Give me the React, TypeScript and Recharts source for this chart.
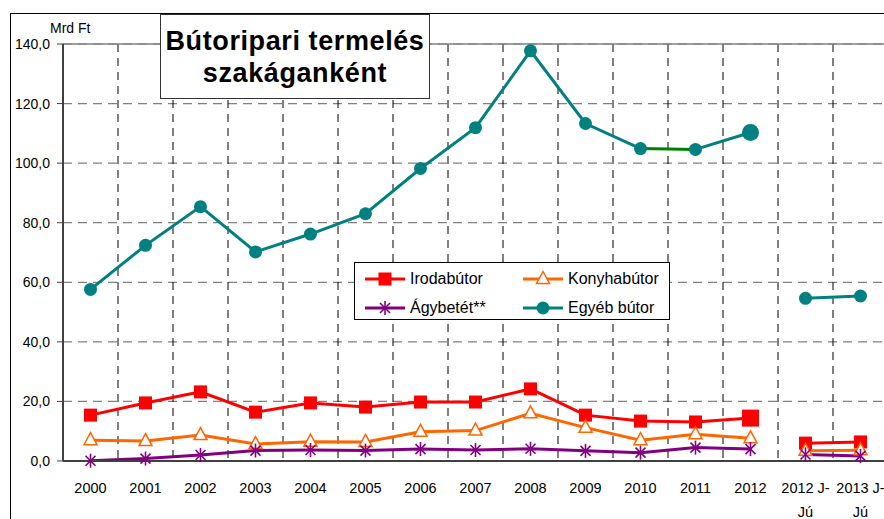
import React from 'react';
import { LineChart, Line, XAxis, YAxis, CartesianGrid, Legend, ReferenceLine } from 'recharts';

// Years plus the two half-year (Jan-Jun) periods at the end
const categories = [
    '2000', '2001', '2002', '2003', '2004', '2005', '2006', '2007',
    '2008', '2009', '2010', '2011', '2012', '2012 J-\nJú', '2013 J-\nJú',
];

const irodabutor = [15.4, 19.5, 23.2, 16.4, 19.5, 18.1, 19.8, 19.8, 24.2, 15.4, 13.4, 13.1, 14.4, 6.0, 6.4];
const konyhabutor = [7.0, 6.7, 8.7, 5.7, 6.5, 6.4, 9.8, 10.2, 16.0, 11.2, 7.0, 9.0, 7.6, 3.4, 3.6];
const agybetet = [0.1, 0.8, 2.0, 3.5, 3.7, 3.5, 4.0, 3.7, 4.1, 3.4, 2.8, 4.5, 4.0, 2.2, 1.7];
const egyebButor = [57.6, 72.4, 85.4, 70.2, 76.2, 83.0, 98.2, 111.9, 137.7, 113.3, 104.9, 104.6, 110.3, 54.6, 55.4];

const yTicks = [0, 20, 40, 60, 80, 100, 120, 140];

// the 2010-2011 stretch of "Egyéb bútor" is drawn green in the original
const greenFrom = categories.indexOf('2010');
const greenTo = categories.indexOf('2011');
// markers drawn bigger on the last full year
const bigMarker = categories.indexOf('2012');

const RED = '#FF0000';
const ORANGE = '#FF6600';
const PURPLE = '#800080';
const TEAL = '#008080';
const GREEN = '#008000';
const FONT = '"Liberation Sans", Arial, sans-serif';

const isHalf = (c: string) => c.includes('J-');

const chartData = categories.map((cat, i) => {
    const half = isHalf(cat);
    return {
        cat,
        iroda: half ? null : irodabutor[i],
        irodaH: half ? irodabutor[i] : null,
        konyha: half ? null : konyhabutor[i],
        konyhaH: half ? konyhabutor[i] : null,
        agy: half ? null : agybetet[i],
        agyH: half ? agybetet[i] : null,
        egyebA: !half && i <= greenFrom ? egyebButor[i] : null,
        egyebG: i >= greenFrom && i <= greenTo ? egyebButor[i] : null,
        egyebB: !half && i >= greenTo ? egyebButor[i] : null,
        egyebH: half ? egyebButor[i] : null,
    };
});

const fmt = (v: number) => v.toFixed(1).replace('.', ',');

// vertical gridlines sit on the borders between categories
const categoryBorders = ({ offset }: any) =>
    Array.from({ length: categories.length - 1 }, (_, i) => offset.left + ((i + 1) * offset.width) / categories.length);

function Square({ cx, cy, size }: any) {
    return <rect x={cx - size / 2} y={cy - size / 2} width={size} height={size} fill={RED} />;
}
function Triangle({ cx, cy }: any) {
    return (
        <polygon
            points={`${cx},${cy - 7.5} ${cx - 6.5},${cy + 4.5} ${cx + 6.5},${cy + 4.5}`}
            fill="#fff"
            stroke={ORANGE}
            strokeWidth={1.5}
        />
    );
}
function Star({ cx, cy }: any) {
    const r = 7;
    const d = 5;
    return (
        <g stroke={PURPLE} strokeWidth={1.6}>
            <line x1={cx} y1={cy - r} x2={cx} y2={cy + r} />
            <line x1={cx - d} y1={cy - d} x2={cx + d} y2={cy + d} />
            <line x1={cx - d} y1={cy + d} x2={cx + d} y2={cy - d} />
        </g>
    );
}
function Circle({ cx, cy, r }: any) {
    return <circle cx={cx} cy={cy} r={r} fill={TEAL} />;
}

const skip = (p: any) => p.cy == null || p.value == null || Number.isNaN(p.cy);

const squareDot = (p: any) =>
    skip(p) ? <g key={p.key ?? p.index} /> : <Square key={p.key ?? p.index} cx={p.cx} cy={p.cy} size={p.index === bigMarker ? 17 : 13} />;
const triangleDot = (p: any) =>
    skip(p) ? <g key={p.key ?? p.index} /> : <Triangle key={p.key ?? p.index} cx={p.cx} cy={p.cy} />;
const starDot = (p: any) =>
    skip(p) ? <g key={p.key ?? p.index} /> : <Star key={p.key ?? p.index} cx={p.cx} cy={p.cy} />;
const circleDot = (p: any) =>
    skip(p) ? <g key={p.key ?? p.index} /> : <Circle key={p.key ?? p.index} cx={p.cx} cy={p.cy} r={p.index === bigMarker ? 8.5 : 6.5} />;

function CatTick({ x, y, payload }: any) {
    const lines = String(payload.value).split('\n');
    return (
        <text x={x} y={y} textAnchor="middle" fontSize={14.5} fill="#000" fontFamily={FONT}>
            {lines.map((l, i) => (
                <tspan key={i} x={x} dy={i === 0 ? '0.71em' : 24}>{l}</tspan>
            ))}
        </text>
    );
}

const legendItems = [
    { name: 'Irodabútor', color: RED, marker: (cx: number, cy: number) => <Square cx={cx} cy={cy} size={13} /> },
    { name: 'Konyhabútor', color: ORANGE, marker: (cx: number, cy: number) => <Triangle cx={cx} cy={cy} /> },
    { name: 'Ágybetét**', color: PURPLE, marker: (cx: number, cy: number) => <Star cx={cx} cy={cy} /> },
    { name: 'Egyéb bútor', color: TEAL, marker: (cx: number, cy: number) => <Circle cx={cx} cy={cy} r={6.5} /> },
];

function LegendBox() {
    return (
        <div
            style={{
                boxSizing: 'border-box',
                width: 316,
                height: 58,
                border: '1px solid #000',
                background: '#fff',
                display: 'grid',
                gridTemplateColumns: '158px 158px',
                gridTemplateRows: '29px 29px',
                paddingTop: 1,
                fontFamily: FONT,
                fontSize: 16,
                color: '#000',
            }}
        >
            {legendItems.map(it => (
                <div key={it.name} style={{ display: 'flex', alignItems: 'center', paddingLeft: 9 }}>
                    <svg width={44} height={20} style={{ flex: 'none' }}>
                        <line x1={1} y1={10} x2={41} y2={10} stroke={it.color} strokeWidth={3} />
                        {it.marker(21, 10)}
                    </svg>
                    <span style={{ marginLeft: 2 }}>{it.name}</span>
                </div>
            ))}
        </div>
    );
}

export default function App() {
    return (
        <div
            style={{
                position: 'absolute',
                left: 0,
                top: 0,
                width: 884,
                height: 519,
                overflow: 'hidden',
                background: '#fff',
                fontFamily: FONT,
            }}
        >
            <div
                style={{
                    position: 'absolute',
                    left: 10,
                    top: 13,
                    width: 900,
                    height: 600,
                    border: '1px solid #000',
                }}
            />
            <LineChart width={900} height={519} data={chartData} margin={{ top: 44, right: 12, bottom: 0, left: 0 }}>
                <CartesianGrid vertical={false} stroke="#808080" strokeDasharray="9 6" strokeWidth={1.2} />
                <CartesianGrid
                    horizontal={false}
                    verticalCoordinatesGenerator={categoryBorders}
                    stroke="#000"
                    strokeDasharray="8 6"
                />
                <ReferenceLine y={140} stroke="#808080" strokeWidth={1.5} />
                <XAxis
                    dataKey="cat"
                    interval={0}
                    padding={{ left: 27.5, right: 27.5 }}
                    axisLine={{ stroke: '#404040', strokeWidth: 2 }}
                    tickLine={false}
                    tickSize={6}
                    tickMargin={16}
                    height={58}
                    tick={<CatTick />}
                />
                <YAxis
                    domain={[0, 140]}
                    ticks={yTicks}
                    tickFormatter={fmt}
                    width={63}
                    tickSize={6}
                    tickMargin={7}
                    axisLine={{ stroke: '#404040', strokeWidth: 2 }}
                    tickLine={{ stroke: '#404040' }}
                    tick={{ fill: '#000', fontSize: 14, fontFamily: FONT }}
                />
                <Legend
                    layout="vertical"
                    align="center"
                    verticalAlign="middle"
                    wrapperStyle={{ left: 354, top: 262, width: 316, height: 58 }}
                    content={() => <LegendBox />}
                />

                <Line dataKey="egyebG" stroke={GREEN} strokeWidth={3} dot={false} activeDot={false} isAnimationActive={false} legendType="none" />
                <Line dataKey="egyebA" stroke={TEAL} strokeWidth={3} dot={circleDot} activeDot={false} isAnimationActive={false} />
                <Line dataKey="egyebB" stroke={TEAL} strokeWidth={3} dot={circleDot} activeDot={false} isAnimationActive={false} legendType="none" />
                <Line dataKey="egyebH" stroke={TEAL} strokeWidth={3} dot={circleDot} activeDot={false} isAnimationActive={false} legendType="none" />

                <Line dataKey="iroda" stroke={RED} strokeWidth={3} dot={squareDot} activeDot={false} isAnimationActive={false} />
                <Line dataKey="irodaH" stroke={RED} strokeWidth={3} dot={squareDot} activeDot={false} isAnimationActive={false} legendType="none" />

                <Line dataKey="konyha" stroke={ORANGE} strokeWidth={3} dot={triangleDot} activeDot={false} isAnimationActive={false} />
                <Line dataKey="konyhaH" stroke={ORANGE} strokeWidth={3} dot={triangleDot} activeDot={false} isAnimationActive={false} legendType="none" />

                <Line dataKey="agy" stroke={PURPLE} strokeWidth={3} dot={starDot} activeDot={false} isAnimationActive={false} />
                <Line dataKey="agyH" stroke={PURPLE} strokeWidth={3} dot={starDot} activeDot={false} isAnimationActive={false} legendType="none" />
            </LineChart>

            <div
                style={{
                    position: 'absolute',
                    left: 50,
                    top: 20,
                    fontSize: 14,
                    color: '#000',
                }}
            >
                Mrd Ft
            </div>
            <div
                style={{
                    position: 'absolute',
                    left: 160,
                    top: 14,
                    width: 270,
                    height: 85,
                    boxSizing: 'border-box',
                    border: '1.5px solid #333',
                    background: '#fff',
                    paddingTop: 10,
                    textAlign: 'center',
                    fontWeight: 'bold',
                    fontSize: 27,
                    lineHeight: '32px',
                    letterSpacing: 0.6,
                    color: '#000',
                }}
            >
                Bútoripari termelés
                <br />
                szakáganként
            </div>
        </div>
    );
}
